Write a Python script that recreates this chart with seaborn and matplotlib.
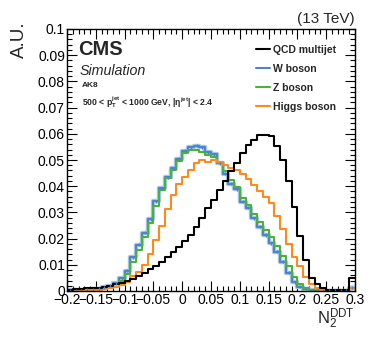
import numpy as np
import pandas as pd
import matplotlib
matplotlib.use("Agg")
import matplotlib.pyplot as plt
from matplotlib.ticker import MultipleLocator, FuncFormatter
from matplotlib.lines import Line2D
import seaborn as sns

sns.set_style("ticks")
plt.rcParams['font.family'] = ['Liberation Sans', 'DejaVu Sans']
plt.rcParams['mathtext.fontset'] = 'custom'
plt.rcParams['mathtext.rm'] = 'Liberation Sans'
plt.rcParams['mathtext.it'] = 'Liberation Sans:italic'
plt.rcParams['mathtext.bf'] = 'Liberation Sans:bold'

bin_edges = np.round(np.arange(-0.2, 0.3001, 0.01), 3)
bin_centers = (bin_edges[:-1] + bin_edges[1:]) / 2

qcd = [0.0005, 0.0006, 0.0008, 0.0010, 0.0011, 0.0013, 0.0015, 0.0019, 0.0025, 0.0032,
       0.0040, 0.0047, 0.0057, 0.0070, 0.0083, 0.0095, 0.0112, 0.0128, 0.0147, 0.0168,
       0.0190, 0.0214, 0.0245, 0.0277, 0.0316, 0.0347, 0.0385, 0.0420, 0.0458, 0.0490,
       0.0525, 0.0557, 0.0577, 0.0595, 0.0595, 0.0590, 0.0553, 0.0500, 0.0420, 0.0320,
       0.0210, 0.0118, 0.0050, 0.0025, 0.0010, 0.0004, 0.0003, 0.0002, 0.0002, 0.0048]
w_boson = [0.0002, 0.0002, 0.0003, 0.0004, 0.0006, 0.0009, 0.0014, 0.0020, 0.0030, 0.0048,
           0.0078, 0.0128, 0.0176, 0.0223, 0.0275, 0.0343, 0.0392, 0.0434, 0.0468, 0.0504,
           0.0535, 0.0548, 0.0555, 0.0548, 0.0530, 0.0522, 0.0487, 0.0448, 0.0410, 0.0388,
           0.0340, 0.0318, 0.0277, 0.0245, 0.0214, 0.0182, 0.0150, 0.0112, 0.0070, 0.0033,
           0.0017, 0.0008, 0.0003, 0.0001, 0.0000, 0.0000, 0.0000, 0.0000, 0.0000, 0.0012]
z_boson = [0.0002, 0.0002, 0.0003, 0.0004, 0.0005, 0.0008, 0.0012, 0.0017, 0.0025, 0.0038,
           0.0065, 0.0110, 0.0155, 0.0205, 0.0260, 0.0325, 0.0385, 0.0430, 0.0462, 0.0498,
           0.0528, 0.0540, 0.0537, 0.0530, 0.0518, 0.0512, 0.0488, 0.0458, 0.0425, 0.0398,
           0.0355, 0.0330, 0.0292, 0.0265, 0.0232, 0.0205, 0.0172, 0.0135, 0.0095, 0.0055,
           0.0028, 0.0012, 0.0005, 0.0002, 0.0001, 0.0001, 0.0001, 0.0001, 0.0001, 0.0012]
higgs = [0.0001, 0.0001, 0.0002, 0.0003, 0.0004, 0.0005, 0.0007, 0.0010, 0.0015, 0.0023,
         0.0036, 0.0057, 0.0071, 0.0099, 0.0140, 0.0195, 0.0248, 0.0312, 0.0366, 0.0408,
         0.0434, 0.0462, 0.0487, 0.0500, 0.0491, 0.0500, 0.0494, 0.0481, 0.0468, 0.0460,
         0.0448, 0.0428, 0.0405, 0.0380, 0.0360, 0.0335, 0.0285, 0.0237, 0.0178, 0.0130,
         0.0095, 0.0052, 0.0028, 0.0010, 0.0005, 0.0002, 0.0002, 0.0002, 0.0002, 0.0010]

labels = ["QCD multijet", "W boson", "Z boson", "Higgs boson"]
colors = ["black", "#4a86c8", "#4cb03c", "#ff8a1c"]
series = [qcd, w_boson, z_boson, higgs]

W, H = 374, 343
fig = plt.figure(figsize=(W / 100, H / 100), dpi=100)
ax = fig.add_axes([67 / W, 1 - 291 / H, 288 / W, 262 / H])

def hist(vals, color, lw):
    df = pd.DataFrame({"x": bin_centers, "w": np.asarray(vals, dtype=float)})
    sns.histplot(data=df, x="x", weights="w", binwidth=0.01, binrange=(-0.2, 0.3),
                 element="step", fill=False, color=color, linewidth=lw, ax=ax)

# light halo under W boson
hist(w_boson, "#a9c8ea", 3.2)
for k in [1, 2, 3, 0]:
    hist(series[k], colors[k], 1.5)
ax.errorbar(bin_centers, w_boson, yerr=0.0006, fmt="none", ecolor=colors[1], elinewidth=1.0)

ax.set_xlim(-0.2, 0.3)
ax.set_ylim(0, 0.1)
ax.xaxis.set_major_locator(MultipleLocator(0.05))
ax.xaxis.set_minor_locator(MultipleLocator(0.01))
ax.yaxis.set_major_locator(MultipleLocator(0.01))
ax.yaxis.set_minor_locator(MultipleLocator(0.002))
fmt = FuncFormatter(lambda v, p: ("%g" % round(v, 3)).replace("-", "\u2212"))
ax.xaxis.set_major_formatter(fmt)
ax.yaxis.set_major_formatter(fmt)
ax.tick_params(which="both", direction="in", top=True, right=True, labelsize=10, width=0.8,
               colors="black")
ax.tick_params(which="major", length=7, pad=1.5)
ax.tick_params(which="minor", length=3.5)
for s in ax.spines.values():
    s.set_linewidth(1.0)
    s.set_color("black")

ax.set_xlabel(r"N$_{2}^{\mathrm{DDT}}$", fontsize=12, loc="right")
ax.xaxis.set_label_coords(1.0, -0.06)
ax.set_ylabel("A.U.", fontsize=13.5, loc="top")
ax.yaxis.set_label_coords(-0.135, 1.03)

def ftxt(x, y, s, **kw):
    fig.text(x / W, 1 - y / H, s, **kw)

ftxt(355, 23, "(13 TeV)", ha="right", va="baseline", fontsize=11)
ftxt(78, 55, "CMS", ha="left", va="baseline", fontsize=14.5, fontweight="bold")
ftxt(80, 75, "Simulation", ha="left", va="baseline", fontsize=10.3, style="italic")
ftxt(82, 87.5, "AK8", ha="left", va="baseline", fontsize=6, fontweight="bold")
ftxt(82, 106, r"500 < p$_{\mathbf{T}}^{\mathbf{jet}}$ < 1000 GeV, |η$^{\mathbf{jet}}$| < 2.4",
     ha="left", va="baseline", fontsize=6.2, fontweight="bold")

handles = [Line2D([0], [0], color=c, lw=1.5) for c in colors]
ax.legend(handles, labels, loc="upper left", bbox_to_anchor=(256 / W, 1 - 45 / H),
          bbox_transform=fig.transFigure, frameon=False, borderpad=0, borderaxespad=0,
          handlelength=1.3, handletextpad=0.35, labelspacing=0.85,
          prop={"weight": "bold", "size": 7.5})

fig.savefig("out.png", dpi=100)
